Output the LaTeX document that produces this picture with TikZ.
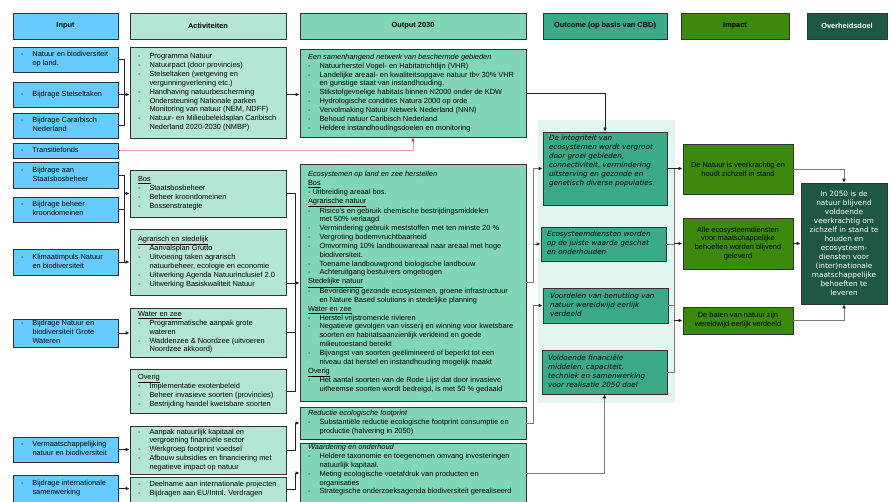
\documentclass[tikz,border=0pt]{standalone}
\usepackage{fontspec}
\setmainfont{Liberation Sans}
\newfontfamily\dejav{DejaVu Sans}
\usetikzlibrary{arrows.meta}
\definecolor{inblue}{HTML}{66CCFF}
\definecolor{actgreen}{HTML}{B4E6D4}
\definecolor{outgreen}{HTML}{80D6B6}
\definecolor{ocgreen}{HTML}{3BAA86}
\definecolor{impgreen}{HTML}{3B8A0C}
\definecolor{goalgreen}{HTML}{1F5842}
\definecolor{panelgreen}{HTML}{E3F5EF}
\definecolor{pinkline}{HTML}{E896C8}
\definecolor{pinkhead}{HTML}{C8237F}
\definecolor{lnk}{HTML}{222222}
\definecolor{glnk}{HTML}{7A7A7A}
% box: style, name, x1, y1, x2, y2, content
\newcommand{\Bx}[7]{%
  \pgfmathsetmacro{\bxw}{#5-#3}\pgfmathsetmacro{\bxh}{#6-#4}%
  \node[#1, minimum width=\bxw pt, minimum height=\bxh pt] (#2) at ({(#3+#5)/2},{(#4+#6)/2}) {#7};}
\newcommand{\Lst}[2][8]{\makebox[\bxw pt][l]{\hspace{#1pt}\begin{tabular}{@{}l@{}}#2\end{tabular}}}
\newcommand{\D}{\makebox[11.5pt][l]{-}}
\newcommand{\I}{\hspace*{11.5pt}}
\begin{document}
\begin{tikzpicture}[x=1pt,y=-1pt,
  base/.style={draw=black!80, line width=0.7pt, inner sep=0pt, font=\fontsize{7.4}{8.85}\selectfont},
  hdr/.style={base, font=\bfseries\fontsize{7.4}{8.85}\selectfont},
  inbox/.style={base, fill=inblue},
  actbox/.style={base, fill=actgreen},
  outbox/.style={base, fill=outgreen},
  ocbox/.style={base, fill=ocgreen, font=\dejav\itshape\fontsize{7.2}{9}\selectfont},
  impbox/.style={base, fill=impgreen, align=center},
  goalbox/.style={base, fill=goalgreen, text=white, align=center, font=\dejav\fontsize{7.3}{9}\selectfont},
  conn/.style={draw=lnk, line width=0.75pt},
  gconn/.style={draw=glnk, line width=0.9pt},
  arr/.style={conn, -{Latex[length=4pt,width=3.6pt]}},
  garr/.style={gconn, -{Latex[length=4pt,width=3.6pt,color=lnk]}},
  pinkarr/.style={draw=pinkline, line width=0.9pt, -{Latex[length=4pt,width=3.6pt,color=pinkhead]}}
]
\useasboundingbox (0,0) rectangle (892,501);
\clip (0,0) rectangle (892,501);
\fill[white] (0,0) rectangle (892,501);
\fill[panelgreen] (538,120) rectangle (675,403);

% headers
\Bx{hdr, fill=inblue}{hin}{13}{13}{118}{39}{Input}
\Bx{hdr, fill=actgreen}{hact}{130}{13}{286}{39}{Activiteiten}
\Bx{hdr, fill=outgreen}{hout}{300}{13}{526}{39}{Output 2030}
\Bx{hdr, fill=ocgreen}{hoc}{543}{13}{667}{39}{Outcome (op basis van CBD)}
\Bx{hdr, fill=impgreen}{himp}{681}{13}{789}{39}{Impact}
\Bx{hdr, fill=goalgreen, text=white}{hgoal}{807}{13}{887}{39}{Overheidsdoel}

% inputs
\Bx{inbox}{in1}{13}{47}{118}{72}{\Lst{\D Natuur en biodiversiteit\\ \I op land.}}
\Bx{inbox}{in2}{13}{82}{118}{107}{\Lst{\D Bijdrage Stelseltaken}}
\Bx{inbox}{in3}{13}{113}{118}{138}{\Lst{\D Bijdrage Caraïbisch\\ \I Nederland}}
\Bx{inbox}{in4}{13}{143}{118}{158}{\Lst{\D Transitiefonds}}
\Bx{inbox}{in5}{13}{162}{118}{188}{\Lst{\D Bijdrage aan\\ \I Staatsbosbeheer}}
\Bx{inbox}{in6}{13}{197}{118}{222}{\Lst{\D Bijdrage beheer\\ \I kroondomeinen}}
\Bx{inbox}{in7}{13}{249}{118}{275}{\Lst{\D Klimaatimpuls Natuur\\ \I en biodiversiteit}}
\Bx{inbox}{in8}{13}{319}{118}{347}{\Lst{\D Bijdrage Natuur en\\ \I biodiversiteit Grote\\ \I Wateren}}
\Bx{inbox}{in9}{13}{437}{118}{462}{\Lst{\D Vermaatschappelijking\\ \I natuur en biodiversiteit}}
\Bx{inbox}{in10}{13}{475}{118}{502}{\Lst{\D Bijdrage internationale\\ \I samenwerking}}

% activities
\Bx{actbox}{act1}{130}{47}{286}{138}{\Lst{\D Programma Natuur\\ \D Natuurpact (door provincies)\\ \D Stelseltaken (wetgeving en\\ \I vergunningverlening etc.)\\ \D Handhaving natuurbescherming\\ \D Ondersteuning Nationale parken\\ \I Monitoring van natuur (NEM, NDFF)\\ \D Natuur- en Milieubeleidsplan Caribisch\\ \I Nederland 2020-2030 (NMBP)}}
\Bx{actbox}{bos}{130}{170}{286}{217}{\Lst{\underline{Bos}\\ \D Staatsbosbeheer\\ \D Beheer kroondomeinen\\ \D Bossenstrategie}}
\Bx{actbox}{agr}{130}{229}{286}{295}{\Lst{\underline{Agrarisch en stedelijk}\\ \D Aanvalsplan Grutto\\ \D Uitvoering taken agrarisch\\ \I natuurbeheer, ecologie en economie\\ \D Uitwerking Agenda Natuurinclusief 2.0\\ \D Uitwerking Basiskwaliteit Natuur}}
\Bx{actbox}{wat}{130}{308}{286}{357}{\Lst{\underline{Water en zee}\\ \D Programmatische aanpak grote\\ \I wateren\\ \D Waddenzee \& Noordzee (uitvoeren\\ \I Noordzee akkoord)}}
\Bx{actbox}{ovr}{130}{369}{286}{413}{\Lst{\underline{Overig}\\ \D Implementatie exotenbeleid\\ \D Beheer invasieve soorten (provincies)\\ \D Bestrijding handel kwetsbare soorten}}
\Bx{actbox}{aanp}{130}{426}{286}{474}{\Lst{\D Aanpak natuurlijk kapitaal en\\ \I vergroening financiële sector\\ \D Werkgroep footprint voedsel\\ \D Afbouw subsidies en financiering met\\ \I negatieve impact op natuur}}
\Bx{actbox}{deel}{130}{477}{286}{502}{\Lst{\D Deelname aan internationale projecten\\ \D Bijdragen aan EU/Intnl. Verdragen}}

% outputs
\Bx{outbox}{out1}{300}{49}{526}{137}{\Lst{\textit{Een samenhangend netwerk van beschermde gebieden}\\ \D Natuurherstel Vogel- en Habitatrichtlijn (VHR)\\ \D Landelijke areaal- en kwaliteitsopgave natuur tbv 30\% VHR\\ \I en gunstige staat van instandhouding.\\ \D Stikstofgevoelige habitats binnen N2000 onder de KDW\\ \D Hydrologische condities Natura 2000 op orde\\ \D Vervolmaking Natuur Netwerk Nederland (NNN)\\ \D Behoud natuur Caribisch Nederland\\ \D Heldere instandhoudingsdoelen en monitoring}}
\Bx{outbox}{out2}{300}{164}{526}{401}{\Lst{\textit{Ecosystemen op land en zee herstellen}\\ \underline{Bos}\\ - Uitbreiding areaal bos.\\ \underline{Agrarische natuur}\\ \D Risico's en gebruik chemische bestrijdingsmiddelen\\ \I met 50\% verlaagd\\ \D Vermindering gebruik meststoffen met ten minste 20 \%\\ \D Vergroting bodemvruchtbaarheid\\ \D Omvorming 10\% landbouwareaal naar areaal met hoge\\ \I biodiversiteit.\\ \D Toename landbouwgrond biologische landbouw\\ \D Achteruitgang bestuivers omgebogen\\ \underline{Stedelijke natuur}\\ \D Bevordering gezonde ecosystemen, groene infrastructuur\\ \I en Nature Based solutions in stedelijke planning\\ \underline{Water en zee}\\ \D Herstel vrijstromende rivieren\\ \D Negatieve gevolgen van visserij en winning voor kwetsbare\\ \I soorten en habitatsaanzienlijk verkleind en goede\\ \I milieutoestand bereikt\\ \D Bijvangst van soorten geëlimineerd of beperkt tot een\\ \I niveau dat herstel en instandhouding mogelijk maakt\\ \underline{Overig}\\ \D Het aantal soorten van de Rode Lijst dat door invasieve\\ \I uitheemse soorten wordt bedreigd, is met 50 \% gedaald}}
\Bx{outbox}{out3}{300}{407}{526}{439}{\Lst{\textit{Reductie ecologische footprint}\\ \D Substantiële reductie ecologische footprint consumptie en\\ \I productie (halvering in 2050)}}
\Bx{outbox}{out4}{300}{443}{526}{503}{\Lst{\textit{Waardering en onderhoud}\\ \D Heldere taxonomie en toegenomen omvang investeringen\\ \I natuurlijk kapitaal.\\ \D Meting ecologische voetafdruk van producten en\\ \I organisaties\\ \D Strategische onderzoeksagenda biodiversiteit gerealiseerd\\[6pt]}}

% outcomes
\Bx{ocbox}{oc1}{543}{132}{667}{205}{\Lst[6]{De integriteit van\\ ecosystemen wordt vergroot\\ door groei gebieden,\\ connectiviteit, vermindering\\ uitsterving en gezonde en\\ genetisch diverse populaties\\[14pt]}}
\Bx{ocbox}{oc2}{541}{227}{666}{261}{\Lst[6]{Ecosysteemdiensten worden\\ op de juiste waarde geschat\\ en onderhouden}}
\Bx{ocbox}{oc3}{543}{288}{668}{323}{\Lst[7]{Voordelen van benutting van\\ natuur wereldwijd eerlijk\\ verdeeld}}
\Bx{ocbox}{oc4}{542}{350}{667}{394}{\Lst[6]{Voldoende financiële\\ middelen, capaciteit,\\ techniek en samenwerking\\ voor realisatie 2050 doel}}

% impacts
\Bx{impbox}{imp1}{683}{144}{793}{194}{De Natuur is veerkrachtig en\\ houdt zichzelf in stand}
\Bx{impbox}{imp2}{683}{218}{793}{269}{Alle ecosysteemdiensten\\ voor maatschappelijke\\ behoeften worden blijvend\\ geleverd}
\Bx{impbox}{imp3}{683}{307}{793}{334}{De baten van natuur zijn\\ wereldwijd eerlijk verdeeld}

% goal
\Bx{goalbox}{goal}{801}{183}{887}{304}{In 2050 is de\\ natuur blijvend\\ voldoende\\ veerkrachtig om\\ zichzelf in stand te\\ houden en\\ ecosysteem-\\ diensten voor\\ (inter)nationale\\ maatschappelijke\\ behoeften te\\ leveren}

% connectors: inputs -> activities
\draw[conn] (in1.east) -- ++(6,0) coordinate (j1) |- (in3.east);
\draw[arr] (in2.east) -- (in2.east -| act1.west);
\draw[arr] (act1.east |- in2.east) -- (out1.west |- in2.east);
\coordinate (t1) at (413,0);
\draw[pinkarr] (in4.east) -| (out1.south -| t1);

\draw[conn] (in5.east) -- ++(6,0) coordinate (j2) |- (in7.east);
\draw[conn] (in6.east) -- (in6.east -| j2);
\draw[arr] (in7.east) -- (in7.east -| agr.west);
\draw[arr] (j2 |- bos.west) -- (bos.west);
\draw[arr] (in8.east) -- (in8.east -| wat.west);
\draw[arr] (in9.east) -- (in9.east -| aanp.west);
\draw[arr] (in10.east) -- (in10.east -| deel.west);

% activities -> outputs
\coordinate (j3) at (295,0);
\coordinate (j4) at (0,283);
\draw[conn] (bos.east) -| (j3 |- ovr.east) -- (ovr.east);
\draw[conn] (wat.east) -- (wat.east -| j3);
\draw[arr] (agr.east |- j4) -- (out2.west |- j4);
\draw[arr] (aanp.east) -- (aanp.east -| j3) |- (out3.west);
\draw[arr] (deel.east) -- (deel.east -| j3) |- (out4.west);

% outputs -> outcomes
\coordinate (j5) at (533,0);
\draw[arr] (out1.east) -| (oc1.north);
\draw[garr] (out2.east) -| (j5 |- oc1.west) -- (oc1.west);
\draw[garr] (j5 |- oc2.west) -- (oc2.west);
\draw[garr] (out3.east) -| (j5 |- oc3.west) -- (oc3.west);
\draw[garr] (out4.east) -| (oc4.south);

% outcomes -> impacts
\coordinate (j6) at (674,0);
\draw[gconn] (oc1.east -| j6) -- (j6 |- oc4.east) -- (oc4.east);
\draw[gconn] (oc2.east) -- (oc2.east -| j6);
\draw[gconn] (oc3.east) -- (oc3.east -| j6);
\draw[arr] (oc1.east) -- (oc1.east -| imp1.west);
\draw[arr] (j6 |- imp2.west) -- (imp2.west);
\draw[arr] (j6 |- imp3.west) -- (imp3.west);

% impacts -> goal
\draw[garr] (imp1.east) -| (goal.north);
\draw[arr] (imp2.east) -- (goal.west);
\draw[garr] (imp3.east) -| (goal.south);
\end{tikzpicture}
\end{document}
